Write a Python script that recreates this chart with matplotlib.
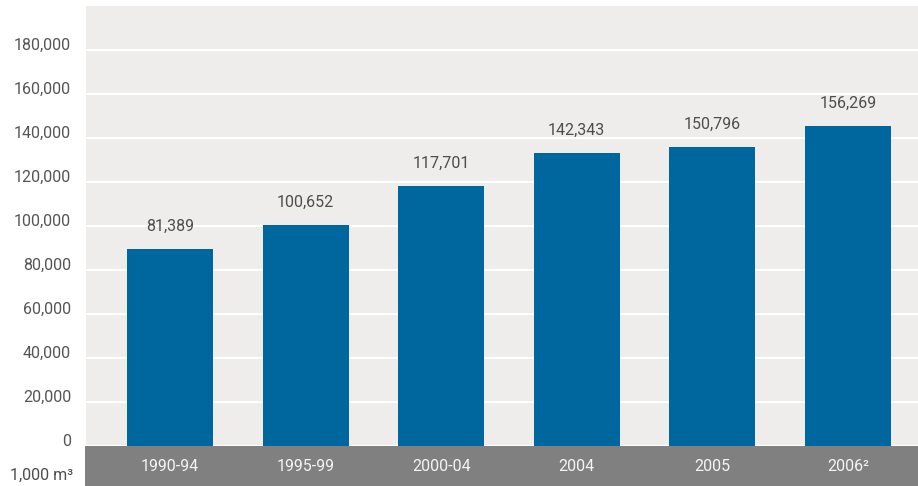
import matplotlib.pyplot as plt
from matplotlib.patches import Rectangle

# Datos (alturas de barra en m3, etiquetas impresas encima)
categories = ['1990-94', '1995-99', '2000-04', '2004', '2005', '2006²']
bar_heights = [89500, 100500, 118200, 133200, 135900, 145500]
label_values = [81389, 100652, 117701, 142343, 150796, 156269]
y_ticks = [0, 20000, 40000, 60000, 80000, 100000, 120000, 140000, 160000, 180000]

plt.rcParams['font.family'] = ['Roboto', 'DejaVu Sans']

fig = plt.figure(figsize=(9.18, 4.86), dpi=100)
ax = fig.add_axes([86 / 918, 40 / 486, 832 / 918, 440 / 486])
ax.set_facecolor('#eeedec')

# Franja gris bajo el eje
fig.patches.append(Rectangle((85 / 918, 0), 833 / 918, 40 / 486,
                             transform=fig.transFigure, facecolor='#808080',
                             edgecolor='none', zorder=-1))

x = range(len(categories))
ax.bar(x, bar_heights, width=0.634, color='#00669e', zorder=3)

for i, (h, v) in enumerate(zip(bar_heights, label_values)):
    ax.annotate(f"{v:,}", (i, h), xytext=(0, 13), textcoords='offset points',
                ha='center', va='baseline', fontsize=11.5, color='#4d4d4d')
    ax.text(i, -20 / 440, categories[i], transform=ax.get_xaxis_transform(),
            ha='center', va='center', fontsize=11.5, color='#f4f4f4',
            clip_on=False, zorder=5)

ax.set_xlim(-0.619, 5.516)
ax.set_ylim(0, 200000)
ax.set_xticks([])
ax.set_yticks(y_ticks)
ax.set_yticklabels([f"{t:,}" for t in y_ticks])
for lab in ax.get_yticklabels():
    lab.set_verticalalignment('baseline')
ax.tick_params(axis='y', length=0, pad=10.8, labelsize=11.5, labelcolor='#555555')
ax.yaxis.grid(True, color='white', linewidth=1.5)
ax.set_axisbelow(True)
for s in ax.spines.values():
    s.set_visible(False)

fig.text(10 / 918, 1 - 475 / 486, '1,000 m³', ha='left', va='center',
         fontsize=11.5, color='#4d4d4d')

fig.savefig('out.png', dpi=100)
